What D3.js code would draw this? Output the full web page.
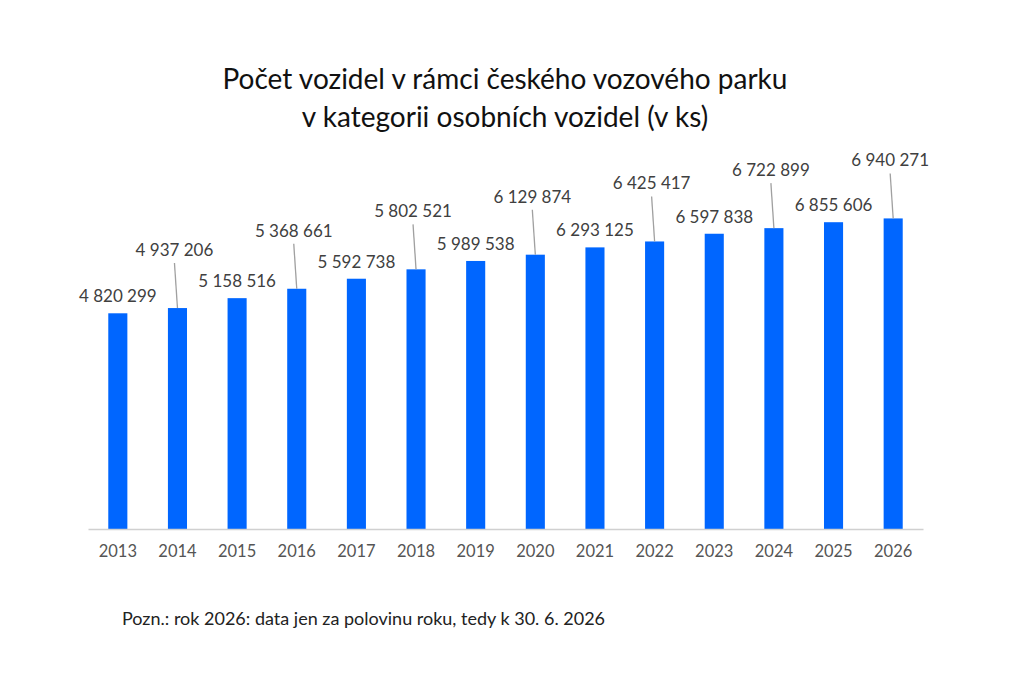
<!DOCTYPE html>
<html>
<head>
<meta charset="utf-8">
<script src="https://cdn.jsdelivr.net/npm/d3@7"></script>
<style>
  body { margin: 0; background: #fff; }
  text { font-family: Lato, "Open Sans", sans-serif; }
</style>
</head>
<body>
<div id="app"></div>
<script>
const years = ['2013', '2014', '2015', '2016', '2017', '2018', '2019',
               '2020', '2021', '2022', '2023', '2024', '2025', '2026'];
const vehicles = [4820299, 4937206, 5158516, 5368661, 5592738, 5802521, 5989538,
                  6129874, 6293125, 6425417, 6597838, 6722899, 6855606, 6940271];
const titleLines = ['Počet vozidel v rámci českého vozového parku',
                    'v kategorii osobních vozidel (v ks)'];
const note = 'Pozn.: rok 2026: data jen za polovinu roku, tedy k 30. 6. 2026';

const width = 1024, height = 683;
const fmt = v => d3.format(',')(v).replace(/,/g, ' ');

const svg = d3.select('#app')
    .append('svg')
    .attr('width', width)
    .attr('height', height);

const x = d3.scaleBand()
    .domain(years)
    .range([88, 923])
    .paddingInner(0.68)
    .paddingOuter(0.34);

const y = d3.scaleLinear()
    .domain([0, 8000000])
    .range([529, 171]);

// title
svg.selectAll('text.title')
    .data(titleLines)
    .join('text')
    .attr('class', 'title')
    .attr('x', 505)
    .attr('y', (d, i) => 89 + i * 38)
    .attr('text-anchor', 'middle')
    .attr('font-size', 28)
    .attr('fill', '#111')
    .text(d => d);

const data = years.map((yr, i) => ({ year: yr, value: vehicles[i], i }));

// bars
svg.selectAll('rect.bar')
    .data(data)
    .join('rect')
    .attr('class', 'bar')
    .attr('x', d => x(d.year))
    .attr('y', d => y(d.value))
    .attr('width', x.bandwidth())
    .attr('height', d => y(0) - y(d.value))
    .style('fill', '#0066ff');

// x axis
const xAxis = svg.append('g')
    .attr('transform', `translate(0,${y(0)})`)
    .call(d3.axisBottom(x).tickSize(0).tickPadding(16));
xAxis.select('.domain').attr('stroke', '#d0d0d0').attr('stroke-width', 1.5);
xAxis.selectAll('text')
    .attr('font-size', 16.5)
    .attr('fill', '#555')
    .style('font-family', 'Lato, "Open Sans", sans-serif');

// value labels: every second one raised with a leader line
const lift = d => d.i % 2 === 1 ? 58 : 17;
const cx = d => x(d.year) + x.bandwidth() / 2;

svg.selectAll('line.leader')
    .data(data.filter(d => d.i % 2 === 1))
    .join('line')
    .attr('class', 'leader')
    .attr('x1', d => cx(d) - 3)
    .attr('y1', d => y(d.value) - lift(d) + 13)
    .attr('x2', d => cx(d))
    .attr('y2', d => y(d.value))
    .attr('stroke', '#a0a0a0')
    .attr('stroke-width', 1.3);

svg.selectAll('text.val')
    .data(data)
    .join('text')
    .attr('class', 'val')
    .attr('x', d => cx(d) - (d.i % 2 === 1 ? 3 : 0))
    .attr('y', d => y(d.value) - lift(d) + 6)
    .attr('text-anchor', 'middle')
    .attr('font-size', 17)
    .attr('fill', '#404040')
    .text(d => fmt(d.value));

// note
svg.append('text')
    .attr('x', 122)
    .attr('y', 625)
    .attr('font-size', 18)
    .attr('fill', '#222')
    .text(note);
</script>
</body>
</html>
